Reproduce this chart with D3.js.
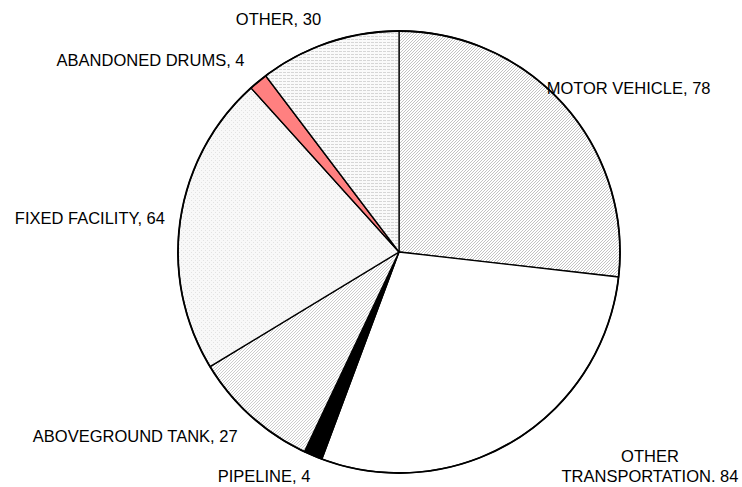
<!DOCTYPE html>
<html>
  <head>
    <meta charset="utf-8">
    <title>Incidents by Source</title>
    <script src="https://d3js.org/d3.v7.min.js"></script>
    <style>
      body { margin: 0; background: #fff; }
      text { font-family: "Liberation Sans", Arial, sans-serif; font-size: 16.5px; fill: #000; }
    </style>
  </head>
  <body>
    <div id="chart"></div>
    <script>
      // Data, clockwise from 12 o'clock
      const categories = ["MOTOR VEHICLE", "OTHER TRANSPORTATION", "PIPELINE", "ABOVEGROUND TANK",
                          "FIXED FACILITY", "ABANDONED DRUMS", "OTHER"];
      const values = [78, 84, 4, 27, 64, 4, 30];
      const labelLines = [
        ["MOTOR VEHICLE, 78"],
        ["OTHER", "TRANSPORTATION. 84"],
        ["PIPELINE, 4"],
        ["ABOVEGROUND TANK, 27"],
        ["FIXED FACILITY, 64"],
        ["ABANDONED DRUMS, 4"],
        ["OTHER, 30"]
      ];

      // Chart size
      const width = 742, height = 487;
      const cx = 399, cy = 252, radius = 221;

      // Label placement (angle clockwise from top in degrees, distance from centre)
      const labelPlace = [[54.5, 282], [130.45, 329.8], [211, 262], [235, 322], [276.3, 311], [307.7, 314], [332.6, 262]];

      const svg = d3.select("#chart")
        .append("svg")
        .attr("width", width)
        .attr("height", height);

      // Fill patterns
      const defs = svg.append("defs");

      function hatch(id, colour) {
        const p = defs.append("pattern")
          .attr("id", id)
          .attr("patternUnits", "userSpaceOnUse")
          .attr("width", 3).attr("height", 3);
        p.append("rect").attr("width", 3).attr("height", 3).attr("fill", "#fff");
        p.append("path")
          .attr("d", "M-1,1 L1,-1 M0,3 L3,0 M2,4 L4,2")
          .attr("stroke", colour).attr("stroke-width", 0.8);
      }
      hatch("pMotor", "#b4b4b4");
      hatch("pTank", "#c0c0c0");

      const pFixed = defs.append("pattern")
        .attr("id", "pFixed")
        .attr("patternUnits", "userSpaceOnUse")
        .attr("width", 4).attr("height", 4);
      pFixed.append("rect").attr("width", 4).attr("height", 4).attr("fill", "#f8f8f8");
      pFixed.append("rect").attr("x", 0).attr("y", 0).attr("width", 1).attr("height", 1).attr("fill", "#e2e2e2");
      pFixed.append("rect").attr("x", 2).attr("y", 2).attr("width", 1).attr("height", 1).attr("fill", "#e2e2e2");

      const pOther = defs.append("pattern")
        .attr("id", "pOther")
        .attr("patternUnits", "userSpaceOnUse")
        .attr("width", 4).attr("height", 3);
      pOther.append("rect").attr("width", 4).attr("height", 3).attr("fill", "#fafafa");
      pOther.append("rect").attr("x", 0).attr("y", 0).attr("width", 3).attr("height", 1).attr("fill", "#d6d6d6");

      const fills = ["url(#pMotor)", "#ffffff", "#000000", "url(#pTank)", "url(#pFixed)", "#ff8080", "url(#pOther)"];

      const pie = d3.pie().sort(null).value(d => d)(values);
      const arc = d3.arc().innerRadius(0).outerRadius(radius);

      const g = svg.append("g").attr("transform", `translate(${cx},${cy})`);

      g.selectAll("path.slice")
        .data(pie)
        .join("path")
        .attr("class", "slice")
        .attr("d", arc)
        .attr("fill", (d, i) => fills[i])
        .attr("stroke", "#000")
        .attr("stroke-width", 1.3)
        .attr("stroke-linejoin", "round");

      // Outer rim a touch heavier
      g.append("circle").attr("r", radius).attr("fill", "none").attr("stroke", "#000").attr("stroke-width", 1.8);

      // Labels
      const lineH = 20;
      g.selectAll("text.lbl")
        .data(pie)
        .join("text")
        .attr("class", "lbl")
        .attr("text-anchor", "middle")
        .each(function (d, i) {
          const a = labelPlace[i][0] * Math.PI / 180, r = labelPlace[i][1];
          const x = r * Math.sin(a), y = -r * Math.cos(a);
          const lines = labelLines[i];
          const t = d3.select(this);
          lines.forEach((s, k) => {
            t.append("tspan")
              .attr("x", x)
              .attr("y", y + (k - (lines.length - 1) / 2) * lineH)
              .attr("dy", "0.35em")
              .text(s);
          });
        });
    </script>
  </body>
</html>
